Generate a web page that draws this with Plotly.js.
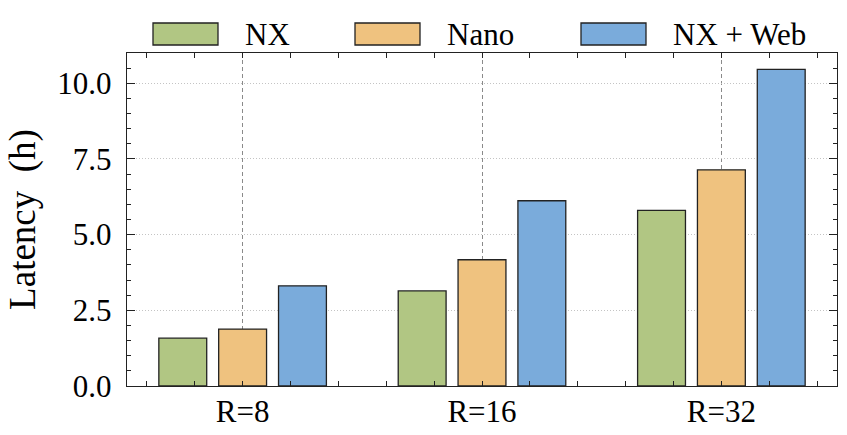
<!DOCTYPE html>
<html>
<head>
<meta charset="utf-8">
<script src="https://cdn.plot.ly/plotly-3.0.1.min.js"></script>
<style>html,body{margin:0;padding:0;background:#fff;}#chart{width:847px;height:435px;}</style>
</head>
<body>
<div id="chart"></div>
<script>
// ---- data ----
const categories = ["R=8", "R=16", "R=32"];
const seriesNames = ["NX", "Nano", "NX + Web"];
const nxValues = [1.58, 3.14, 5.80];
const nanoValues = [1.88, 4.17, 7.14];
const webValues = [3.31, 6.12, 10.46];
const yTickVals = [0, 2.5, 5, 7.5, 10];

// ---- style ----
const colors = ["#b1c683", "#efc27f", "#7aabdb"];
const edge = "#222222";
const FONT = "Liberation Serif, Times New Roman, serif";
const W = 847, H = 435;
const M = {l: 127, r: 10, t: 53, b: 49};
const plotW = W - M.l - M.r, plotH = H - M.t - M.b;

const xPos = categories.map((c, i) => i);
const allValues = [nxValues, nanoValues, webValues];

const traces = allValues.map((vals, k) => ({
  type: "bar",
  name: seriesNames[k],
  x: xPos,
  y: vals,
  marker: {color: colors[k], line: {color: edge, width: 1.3}},
  showlegend: false,
  hoverinfo: "y"
}));

// custom legend (large swatches above the plot)
const legendSwatchX = [153, 355, 581];   // pixel left of swatch
const swW = 65, swTop = 23, swBot = 45;
const px2x = p => (p - M.l) / plotW;
const py2y = p => (H - M.b - p) / plotH;
const shapes = [];
const annotations = [];
seriesNames.forEach((n, k) => {
  shapes.push({
    type: "rect", xref: "paper", yref: "paper",
    x0: px2x(legendSwatchX[k]), x1: px2x(legendSwatchX[k] + swW),
    y0: py2y(swBot), y1: py2y(swTop),
    fillcolor: colors[k], line: {color: edge, width: 1.3}
  });
  annotations.push({
    xref: "paper", yref: "paper",
    x: px2x(legendSwatchX[k] + swW + 25), y: py2y(34),
    xanchor: "left", yanchor: "middle",
    text: n, showarrow: false,
    font: {family: FONT, size: 31, color: "#000"}
  });
});

const layout = {
  width: W, height: H,
  margin: M,
  paper_bgcolor: "#fff", plot_bgcolor: "#fff",
  barmode: "group", bargap: 0.25, bargroupgap: 0.2,
  font: {family: FONT, size: 31, color: "#000"},
  xaxis: {
    type: "linear",
    range: [-0.483, 2.483],
    tickvals: xPos, ticktext: categories,
    ticks: "inside", ticklen: 5, tickwidth: 1, tickcolor: edge,
    showline: true, linecolor: edge, linewidth: 1.3, mirror: "ticks",
    showgrid: true, gridcolor: "#8a8a8a", griddash: "4px,3px", gridwidth: 1,
    zeroline: false,
    ticklabelstandoff: -3,
    minor: {dtick: 0.2, tick0: 0, ticks: "inside", ticklen: 5, tickcolor: edge, showgrid: false},
    tickfont: {family: FONT, size: 31}
  },
  yaxis: {
    range: [0, 11],
    tickvals: yTickVals, tickformat: ".1f",
    ticks: "inside", ticklen: 8, tickwidth: 1, tickcolor: edge,
    showline: true, linecolor: edge, linewidth: 1.3, mirror: "ticks",
    showgrid: true, gridcolor: "#c4c4c4", griddash: "1px,2px", gridwidth: 1,
    zeroline: false,
    ticklabelstandoff: 8,
    minor: {dtick: 0.5, ticks: "inside", ticklen: 4, tickcolor: edge, showgrid: false},
    tickfont: {family: FONT, size: 31},
    title: {text: "Latency  (h)", font: {family: FONT, size: 37}, standoff: 10}
  },
  shapes: shapes,
  annotations: annotations
};

Plotly.newPlot("chart", traces, layout, {displayModeBar: false, staticPlot: true});
</script>
</body>
</html>
